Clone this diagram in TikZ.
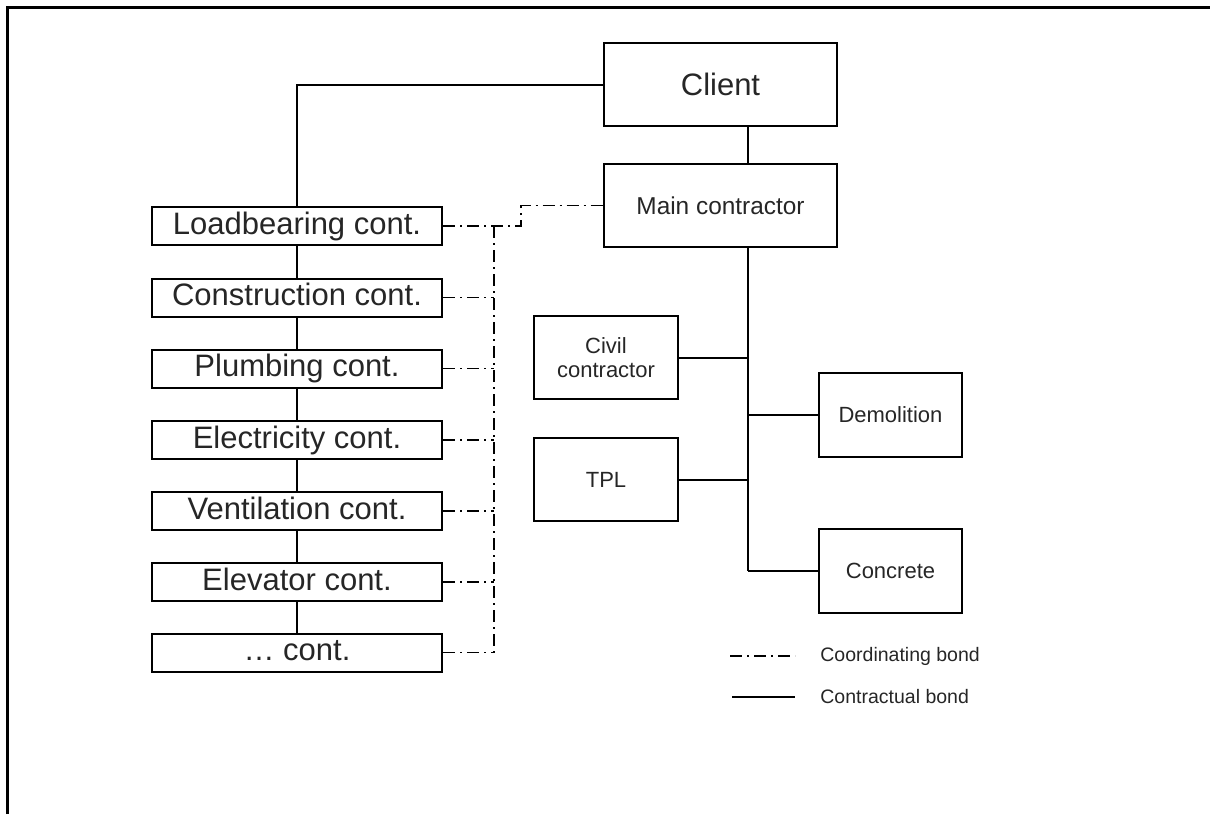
\documentclass[tikz,border=0pt]{standalone}
\usepackage{fontspec}
\setmainfont{Liberation Sans}
\begin{document}
\begin{tikzpicture}[x=0.5pt,y=-0.5pt,
  box/.style={draw=black, line width=1pt, inner sep=0pt, align=center, text=black!85},
  bigbox/.style={box, minimum width=116.5pt, minimum height=41.5pt, font=\fontsize{15.5}{18}\selectfont},
  leftbox/.style={box, minimum width=145pt, minimum height=19pt, text height=0.8em, text depth=0pt, font=\fontsize{15.5}{18}\selectfont},
  smallbox/.style={box, minimum width=72pt, minimum height=41.5pt, font=\fontsize{11}{12}\selectfont},
  contract/.style={draw=black, line width=1pt},
  coord/.style={draw=black, line width=0.75pt, dash pattern=on 6pt off 2.5pt on 1pt off 2.5pt},
  legtext/.style={anchor=west, inner sep=0pt, text=black!85, font=\fontsize{9.75}{12}\selectfont}
]
\useasboundingbox (0,0) rectangle (1210,814);
% frame (top and left)
\draw[line width=1.25pt] (7.5,814) -- (7.5,7.5) -- (1210,7.5);

% nodes
\node[bigbox] (client) at (720.5,84.5) {Client};
\node[bigbox, font=\fontsize{12.2}{14}\selectfont] (main) at (720.5,205.5) {Main contractor};

\node[leftbox] (load) at (297,226) {Loadbearing cont.};
\node[leftbox] (cons) at (297,297.5) {Construction cont.};
\node[leftbox] (plum) at (297,368.5) {Plumbing cont.};
\node[leftbox] (elec) at (297,440) {Electricity cont.};
\node[leftbox] (vent) at (297,511) {Ventilation cont.};
\node[leftbox] (elev) at (297,582) {Elevator cont.};
\node[leftbox] (etc) at (297,652.5) {… cont.};

\node[smallbox] (civil) at (606,357.5) {Civil\\contractor};
\node[smallbox] (tpl) at (606,479.5) {TPL};
\node[smallbox, minimum width=71.5pt, minimum height=42pt] (demo) at (890.5,415) {Demolition};
\node[smallbox, minimum width=71.5pt, minimum height=42pt] (conc) at (890.5,570.5) {Concrete};

% helper coordinates
\coordinate (tx) at (748,570.5);
\coordinate (dx) at (494,652.5);

% contractual bonds
\draw[contract] (client.south -| tx) -- (main.north -| tx);
\draw[contract] (main.south -| tx) -- (tx);
\draw[contract] (civil.east) -- (civil.east -| tx);
\draw[contract] (tpl.east) -- (tpl.east -| tx);
\draw[contract] (demo.west) -- (demo.west -| tx);
\draw[contract] (conc.west) -- (tx);
\draw[contract] (client.west) -| (load.north);
\draw[contract] (load.south) -- (cons.north);
\draw[contract] (cons.south) -- (plum.north);
\draw[contract] (plum.south) -- (elec.north);
\draw[contract] (elec.south) -- (vent.north);
\draw[contract] (vent.south) -- (elev.north);
\draw[contract] (elev.south) -- (etc.north);

% coordinating bonds
\draw[coord] (load.east) -- ++(78,0) |- (main.west);
\draw[coord] (load.east -| dx) -- (dx);
\foreach \b in {cons,plum,elec,vent,elev,etc}
  \draw[coord] (\b.east) -- (\b.east -| dx);

% legend
\coordinate (l1a) at (730,656);
\coordinate (l1b) at (795,656);
\coordinate (l2a) at (732,697);
\coordinate (l2b) at (795,697);
\draw[coord] (l1a) -- (l1b);
\draw[contract] (l2a) -- (l2b);
\node[legtext] (leg1) at (820,656) {Coordinating bond};
\node[legtext] (leg2) at (820,697) {Contractual bond};
\end{tikzpicture}
\end{document}
